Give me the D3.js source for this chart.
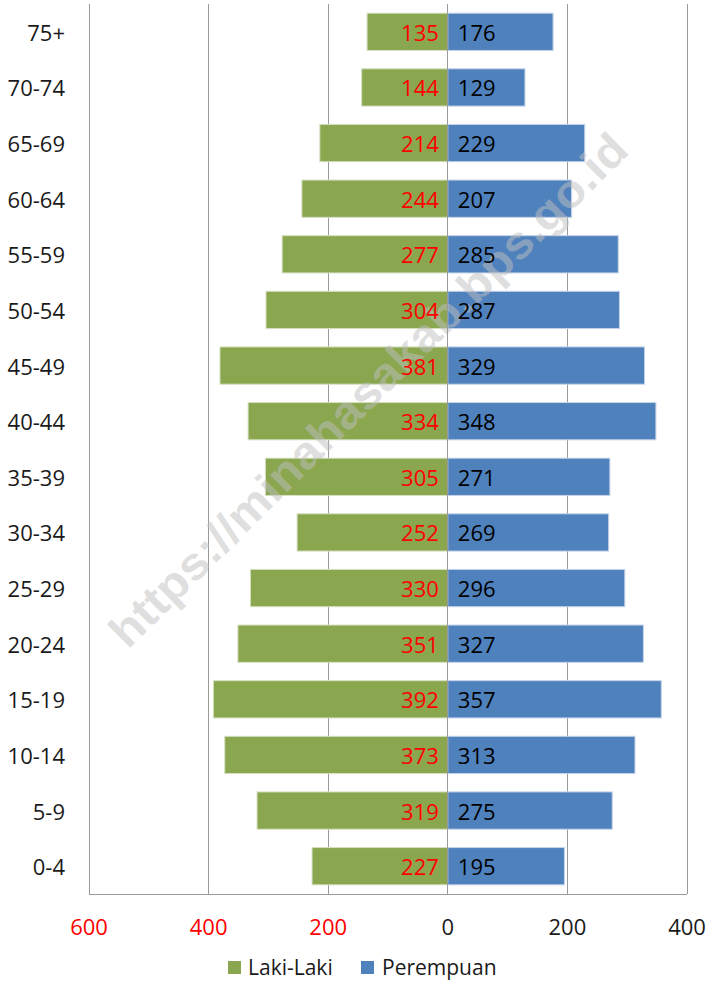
<!DOCTYPE html>
<html><head><meta charset="utf-8">
<script src="https://cdn.jsdelivr.net/npm/d3@7/dist/d3.min.js"></script>
<style>html,body{margin:0;padding:0;background:#fff;}svg{display:block;}</style>
</head><body>
<svg id="c" width="707" height="982"></svg>
<script>
const categories = ["75+","70-74","65-69","60-64","55-59","50-54","45-49","40-44","35-39","30-34","25-29","20-24","15-19","10-14","5-9","0-4"];
const lakiLaki   = [135,144,214,244,277,304,381,334,305,252,330,351,392,373,319,227];
const perempuan  = [176,129,229,207,285,287,329,348,271,269,296,327,357,313,275,195];
const tickValues = [-600,-400,-200,0,200,400];
const tickLabels = ["600","400","200","0","200","400"];
const seriesNames = ["Laki-Laki","Perempuan"];
const watermark = "https://minahasakab.bps.go.id";

(function () {
const pL = 89, pR = 687, pT = 4, pB = 894;
const font = "'Open Sans', 'Noto Sans', sans-serif";
const fs = 22;
const green = "#8AA64F", blue = "#4F81BD", grid = "#9a9a9a";

const svg = d3.select("#c");
const x = d3.scaleLinear().domain([-600, 400]).range([pL, pR]);
const y = d3.scaleBand().domain(categories).range([pT, pB]).paddingInner(0.33).paddingOuter(0.165);

// gridlines
svg.append("g").selectAll("line").data(tickValues.filter(v => v !== -600 && v !== 0))
  .join("line")
  .attr("x1", d => x(d)).attr("x2", d => x(d))
  .attr("y1", pT).attr("y2", pB)
  .attr("stroke", grid).attr("stroke-width", 1).attr("shape-rendering", "crispEdges");

// bars
const rows = categories.map((c, i) => ({c, m: lakiLaki[i], f: perempuan[i]}));
svg.append("g").selectAll("rect").data(rows).join("rect")
  .attr("x", d => x(-d.m)).attr("width", d => x(0) - x(-d.m))
  .attr("y", d => y(d.c)).attr("height", y.bandwidth())
  .attr("fill", green).attr("stroke", "#d6e0c2").attr("stroke-width", 1);
svg.append("g").selectAll("rect").data(rows).join("rect")
  .attr("x", x(0)).attr("width", d => x(d.f) - x(0))
  .attr("y", d => y(d.c)).attr("height", y.bandwidth())
  .attr("fill", blue).attr("stroke", "#c4d3e8").attr("stroke-width", 1);

// watermark
svg.append("text")
  .attr("transform", "translate(368,390) rotate(-44.7)")
  .attr("text-anchor", "middle").attr("dominant-baseline", "central")
  .attr("font-family", "'Liberation Sans', Arial, sans-serif").attr("font-weight", "bold")
  .attr("font-size", 46).attr("textLength", 708).attr("lengthAdjust", "spacingAndGlyphs")
  .attr("fill", "#bfbfbf").attr("fill-opacity", 0.5)
  .text(watermark);

// zero line and axes
svg.append("line").attr("x1", x(0)).attr("x2", x(0)).attr("y1", pT).attr("y2", pB)
  .attr("stroke", grid).attr("stroke-width", 1.2).attr("shape-rendering", "crispEdges");
svg.append("line").attr("x1", pL).attr("x2", pL).attr("y1", pT).attr("y2", pB)
  .attr("stroke", grid).attr("stroke-width", 1).attr("shape-rendering", "crispEdges");
svg.append("line").attr("x1", pL).attr("x2", pR).attr("y1", pB).attr("y2", pB)
  .attr("stroke", grid).attr("stroke-width", 1).attr("shape-rendering", "crispEdges");

// value labels
svg.append("g").selectAll("text").data(rows).join("text")
  .attr("x", x(0) - 9).attr("y", d => y(d.c) + y.bandwidth() / 2)
  .attr("text-anchor", "end").attr("dominant-baseline", "central")
  .attr("font-family", font).attr("font-size", fs).attr("fill", "#FF0000")
  .text(d => d.m);
svg.append("g").selectAll("text").data(rows).join("text")
  .attr("x", x(0) + 10).attr("y", d => y(d.c) + y.bandwidth() / 2)
  .attr("text-anchor", "start").attr("dominant-baseline", "central")
  .attr("font-family", font).attr("font-size", fs).attr("fill", "#000")
  .text(d => d.f);

// category labels
svg.append("g").selectAll("text").data(categories).join("text")
  .attr("x", 65).attr("y", d => y(d) + y.bandwidth() / 2)
  .attr("text-anchor", "end").attr("dominant-baseline", "central")
  .attr("font-family", font).attr("font-size", fs).attr("fill", "#1a1a1a")
  .text(d => d);

// x tick labels
svg.append("g").selectAll("text").data(tickValues).join("text")
  .attr("x", d => x(d)).attr("y", 926)
  .attr("text-anchor", "middle").attr("dominant-baseline", "central")
  .attr("font-family", font).attr("font-size", fs)
  .attr("fill", d => d < 0 ? "#FF0000" : "#1a1a1a")
  .text((d, i) => tickLabels[i]);

// legend
const lg = svg.append("g");
const items = [{name: seriesNames[0], color: green, sx: 228, tx: 248}, {name: seriesNames[1], color: blue, sx: 361, tx: 382}];
items.forEach(it => {
  lg.append("rect").attr("x", it.sx).attr("y", 961).attr("width", 13).attr("height", 13).attr("fill", it.color);
  lg.append("text").attr("x", it.tx).attr("y", 967).attr("dominant-baseline", "central")
    .attr("font-family", font).attr("font-size", 21).attr("fill", "#1a1a1a").text(it.name);
});
})();
</script>
</body></html>
